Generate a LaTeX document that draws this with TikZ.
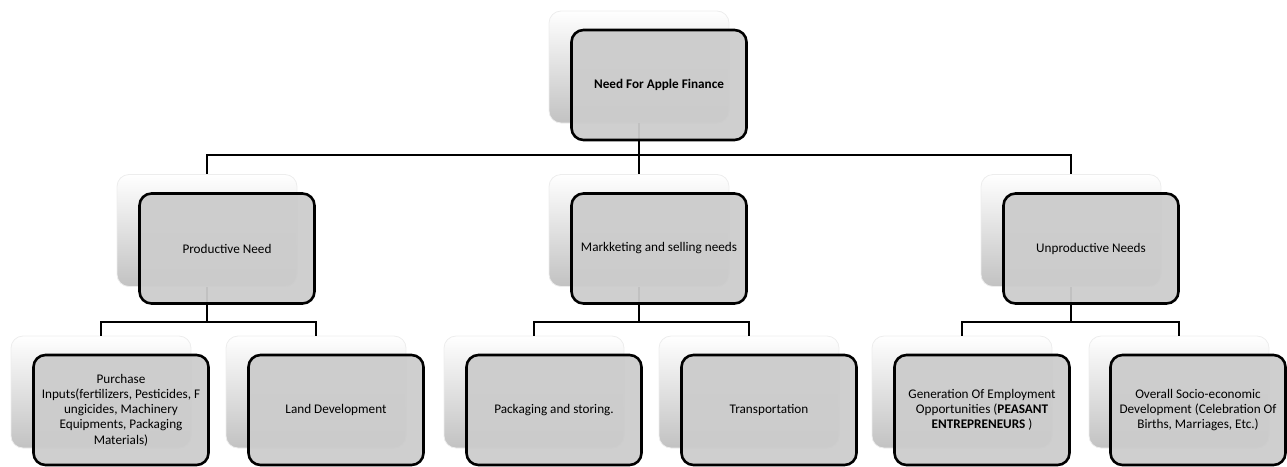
\documentclass[tikz,border=0pt]{standalone}
\usepackage{fontspec}
\setmainfont{Carlito}
\begin{document}
\begin{tikzpicture}[x=1pt,y=-1pt]
\tikzset{
  shdw/.style={minimum width=180pt, minimum height=112pt, rounded corners=12pt,
    top color=white, bottom color=black!24, draw=black!7, line width=0.8pt, inner sep=0pt},
  box/.style={minimum width=175pt, minimum height=110pt, rounded corners=12pt,
    draw=black, line width=2.6pt, fill=black!20, fill opacity=0.95, text opacity=1,
    align=center, font=\fontsize{13.2}{15.2}\selectfont, inner sep=1pt},
  conn/.style={line width=2.6pt, black}
}
\useasboundingbox (0,0) rectangle (1287,466);
% shadows
\node[shdw] (s1) at (639,67) {};
\node[shdw] (s2a) at (207,230.5) {};
\node[shdw] (s2b) at (639,230.5) {};
\node[shdw] (s2c) at (1071,230.5) {};
\node[shdw] (s3a) at (101,392) {};
\node[shdw] (s3b) at (316,392) {};
\node[shdw] (s3c) at (534,392) {};
\node[shdw] (s3d) at (749,392) {};
\node[shdw] (s3e) at (962,392) {};
\node[shdw] (s3f) at (1179,392) {};
% junctions
\coordinate (h1) at (s1.south |- 0,155);
\coordinate (h2a) at (s2a.south |- 0,322);
\coordinate (h2b) at (s2b.south |- 0,322);
\coordinate (h2c) at (s2c.south |- 0,322);
% connectors
\draw[conn] (s1.south) -- (h1) -| (s2a.north);
\draw[conn] (h1) -| (s2b.north);
\draw[conn] (h1) -| (s2c.north);
\draw[conn] (s2a.south) -- (h2a) -| (s3a.north);
\draw[conn] (h2a) -| (s3b.north);
\draw[conn] (s2b.south) -- (h2b) -| (s3c.north);
\draw[conn] (h2b) -| (s3d.north);
\draw[conn] (s2c.south) -- (h2c) -| (s3e.north);
\draw[conn] (h2c) -| (s3f.north);
% boxes
\node[box] (b1) at (659,85) {\textbf{Need For Apple Finance}};
\node[box] (b2a) at (227,248.5) {Productive Need};
\node[box] (b2b) at (659,248.5) {Markketing and selling needs};
\node[box] (b2c) at (1091,248.5) {Unproductive Needs};
\node[box] (b3a) at (121,410) {Purchase\\Inputs(fertilizers, Pesticides, F\\ungicides, Machinery\\Equipments, Packaging\\Materials)};
\node[box] (b3b) at (336,410) {Land Development};
\node[box] (b3c) at (554,410) {Packaging and storing.};
\node[box] (b3d) at (769,410) {Transportation};
\node[box] (b3e) at (982,410) {Generation Of Employment\\Opportunities (\textbf{PEASANT}\\\textbf{ENTREPRENEURS} )};
\node[box] (b3f) at (1198,410) {Overall Socio-economic\\Development (Celebration Of\\Births, Marriages, Etc.)};
\end{tikzpicture}
\end{document}
